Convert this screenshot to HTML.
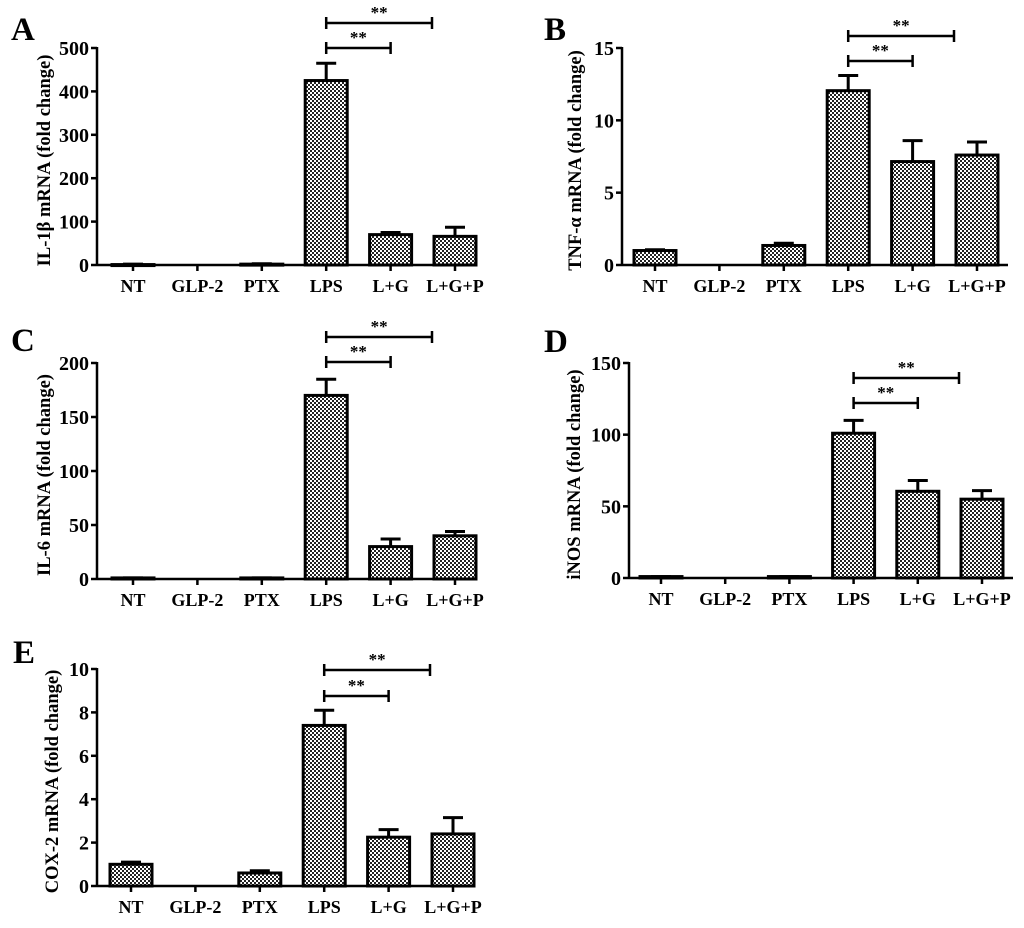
<!DOCTYPE html>
<html><head><meta charset="utf-8">
<style>
html,body{margin:0;padding:0;background:#fff;}
svg text{font-family:"Liberation Serif",serif;font-weight:bold;fill:#000;}
</style></head>
<body>
<svg id="fig" width="1024" height="923" viewBox="0 0 1024 923" xmlns="http://www.w3.org/2000/svg">
<defs>
<pattern id="chk" width="4" height="4" patternUnits="userSpaceOnUse">
<rect width="4" height="4" fill="#fff"/>
<rect width="2" height="2" fill="#222"/>
<rect x="2" y="2" width="2" height="2" fill="#222"/>
</pattern>
</defs>
</svg>
<script>
const categories = ["NT","GLP-2","PTX","LPS","L+G","L+G+P"];
const valuesA = [1, 0, 2, 425, 70, 66];
const errorsA = [2, 0, 3, 465, 75, 87];
const ticksA = [0,100,200,300,400,500];
const valuesB = [1.0, 0, 1.35, 12.05, 7.15, 7.6];
const errorsB = [1.05, 0, 1.5, 13.1, 8.6, 8.5];
const ticksB = [0,5,10,15];
const valuesC = [1, 0, 1, 170, 30, 40];
const errorsC = [1, 0, 1, 185, 37, 44];
const ticksC = [0,50,100,150,200];
const valuesD = [1, 0, 1, 101, 60.5, 55];
const errorsD = [1, 0, 1, 110, 68, 61];
const ticksD = [0,50,100,150];
const valuesE = [1.0, 0, 0.6, 7.4, 2.25, 2.4];
const errorsE = [1.1, 0, 0.7, 8.1, 2.6, 3.15];
const ticksE = [0,2,4,6,8,10];

const NS="http://www.w3.org/2000/svg";
const svg=document.getElementById('fig');
function mk(tag,attrs,parent){const e=document.createElementNS(NS,tag);for(const k in attrs)e.setAttribute(k,attrs[k]);(parent||svg).appendChild(e);return e;}

function panel(cfg,vals,errs,ticks){
  const g=mk('g',{});
  
  
  const ymax=ticks[ticks.length-1];
  const ys=v=>cfg.y0-(v/ymax)*(cfg.y0-cfg.ytop);
  const xs=i=>cfg.x0+i*cfg.step;
  const L=mk('text',{x:cfg.lx,y:cfg.ly,'font-size':33},g);L.textContent=cfg.letter;
  
  
  vals.forEach((v,i)=>{
    if(v<=0)return;
    const x=xs(i),top=ys(v),e=ys(errs[i]);
    const el=mk('line',{x1:x,x2:x,y1:top,y2:e,stroke:'#000','stroke-width':3},g);
    
    
    mk('line',{x1:x-10,x2:x+10,y1:e,y2:e,stroke:'#000','stroke-width':3},g);
    const b=mk('rect',{x:x-21,y:top,width:42,height:Math.max(cfg.y0-top,1),fill:'url(#chk)',stroke:'#000','stroke-width':3},g);
    
    
  });
  const ya=mk('line',{x1:cfg.ax,x2:cfg.ax,y1:cfg.ytop-1,y2:cfg.y0,stroke:'#000','stroke-width':2.5},g);
  
  
  const xa=mk('line',{x1:cfg.ax,x2:cfg.xend,y1:cfg.y0,y2:cfg.y0,stroke:'#000','stroke-width':2.5},g);
  
  
  ticks.forEach(t=>{
    const y=ys(t);
    mk('line',{x1:cfg.ax-6,x2:cfg.ax,y1:y,y2:y,stroke:'#000','stroke-width':2.5},g);
    const tx=mk('text',{x:cfg.ax-8,y:y+7,'font-size':20,'text-anchor':'end'},g);tx.textContent=t;
    
    
  });
  categories.forEach((c,i)=>{
    const x=xs(i);
    mk('line',{x1:x,x2:x,y1:cfg.y0,y2:cfg.y0+6,stroke:'#000','stroke-width':2.5},g);
    const tx=mk('text',{x:x,y:cfg.y0+27,'font-size':18,'text-anchor':'middle'},g);tx.textContent=c;
    
    
  });
  const yl=mk('text',{x:0,y:0,'font-size':18.5,'text-anchor':'middle',transform:`translate(${cfg.ylx},${(cfg.y0+cfg.ytop)/2+4}) rotate(-90)`},g);
  yl.textContent=cfg.ylabel;
  
  
  [[cfg.b1,xs(4)],[cfg.b2,xs(5)-23]].forEach(([by,x2])=>{
    const x1=xs(3);
    const br=mk('line',{x1:x1,x2:x2,y1:by,y2:by,stroke:'#000','stroke-width':2.5},g);
    
    
    mk('line',{x1:x1,x2:x1,y1:by-6,y2:by+6,stroke:'#000','stroke-width':2.5},g);
    mk('line',{x1:x2,x2:x2,y1:by-6,y2:by+6,stroke:'#000','stroke-width':2.5},g);
    const st=mk('text',{x:(x1+x2)/2,y:by-5,'font-size':17,'text-anchor':'middle'},g);st.textContent='**';
    
    
  });
}
panel({letter:'A',lx:11,ly:40,ax:97,x0:133,step:64.4,y0:265,ytop:48,xend:477,ylx:50,ylabel:'IL-1\u03b2 mRNA (fold change)',b1:48,b2:23},valuesA,errorsA,ticksA);
panel({letter:'B',lx:544,ly:40,ax:622,x0:655,step:64.4,y0:265,ytop:48,xend:1008,ylx:581,ylabel:'TNF-\u03b1  mRNA (fold change)',b1:61,b2:36},valuesB,errorsB,ticksB);
panel({letter:'C',lx:11,ly:351,ax:97,x0:133,step:64.4,y0:579,ytop:363,xend:477,ylx:50,ylabel:'IL-6 mRNA (fold change)',b1:362,b2:337},valuesC,errorsC,ticksC);
panel({letter:'D',lx:544,ly:352,ax:629,x0:661,step:64.2,y0:578,ytop:363,xend:1013,ylx:580,ylabel:'iNOS mRNA (fold change)',b1:403,b2:378},valuesD,errorsD,ticksD);
panel({letter:'E',lx:13,ly:663,ax:97,x0:131,step:64.4,y0:886,ytop:669,xend:475,ylx:58,ylabel:'COX-2 mRNA (fold change)',b1:696,b2:670},valuesE,errorsE,ticksE);
</script>
</body></html>
